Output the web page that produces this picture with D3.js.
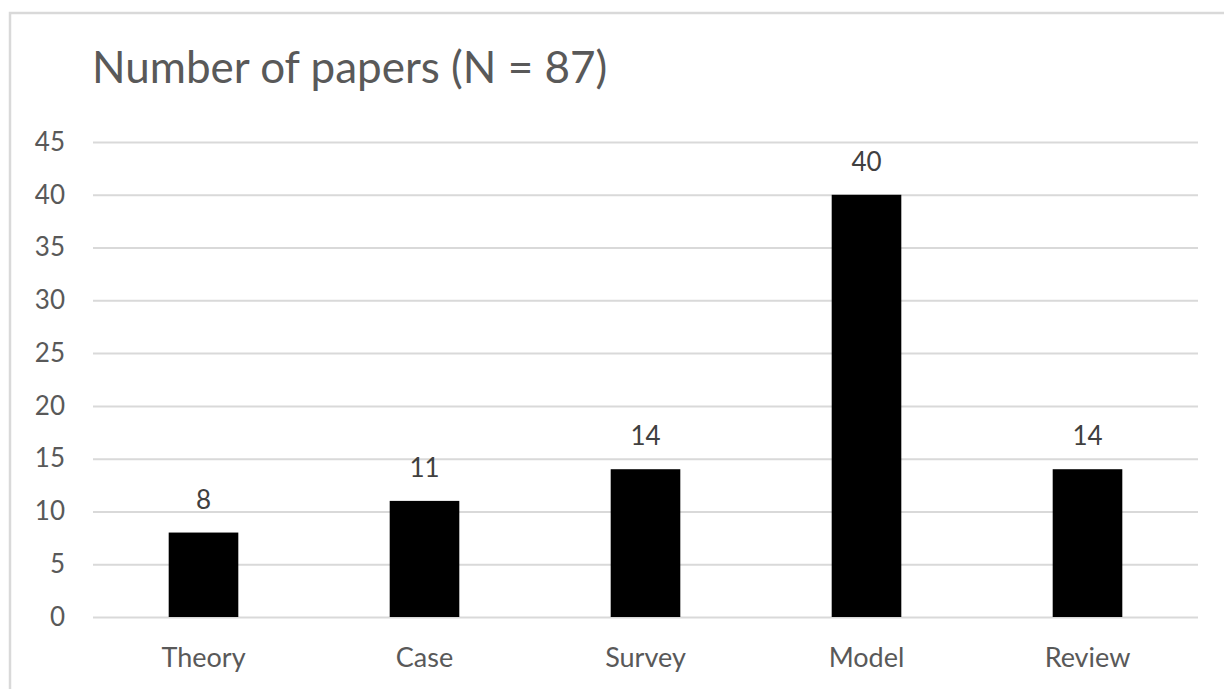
<!DOCTYPE html>
<html>
<head>
<meta charset="utf-8">
<script src="https://cdn.jsdelivr.net/npm/d3@7"></script>
<style>
  html, body { margin: 0; padding: 0; background: #ffffff; }
  svg { display: block; }
  text { font-family: Lato, "Open Sans", sans-serif; }
</style>
</head>
<body>
<svg id="chart" width="1224" height="689"></svg>
<script>
// Paper counts by research approach
const categories = ["Theory", "Case", "Survey", "Model", "Review"];
const paperCounts = [8, 11, 14, 40, 14];
const yTicks = [0, 5, 10, 15, 20, 25, 30, 35, 40, 45];
const chartTitle = "Number of papers (N = 87)";

const svg = d3.select("#chart");
const W = 1224, H = 689;
const plot = { left: 93, right: 1198, top: 142, bottom: 617 };

// Outer frame (only top and left edges fall inside the view)
svg.append("rect")
  .attr("x", 10).attr("y", 13)
  .attr("width", W + 20).attr("height", H + 20)
  .attr("fill", "#ffffff")
  .attr("stroke", "#d9d9d9")
  .attr("stroke-width", 2.5);

const x = d3.scaleBand()
  .domain(categories)
  .range([plot.left, plot.right])
  .paddingInner(0.685)
  .paddingOuter(0.3425);

const y = d3.scaleLinear()
  .domain([0, 45])
  .range([plot.bottom, plot.top]);

// Horizontal gridlines
const yAxis = d3.axisLeft(y)
  .tickValues(yTicks)
  .tickSize(-(plot.right - plot.left))
  .tickPadding(28);

const gy = svg.append("g")
  .attr("transform", `translate(${plot.left},0)`)
  .call(yAxis);
gy.select(".domain").remove();
gy.selectAll(".tick line")
  .attr("stroke", "#d9d9d9")
  .attr("stroke-width", 2);
gy.selectAll(".tick text")
  .attr("fill", "#595959")
  .attr("font-size", 26);

// Bars
svg.append("g")
  .selectAll("rect")
  .data(categories)
  .join("rect")
  .attr("x", d => x(d))
  .attr("width", x.bandwidth())
  .attr("y", (d, i) => y(paperCounts[i]))
  .attr("height", (d, i) => y(0) - y(paperCounts[i]))
  .attr("fill", "#000000");

// Value labels above each bar
svg.append("g")
  .selectAll("text")
  .data(categories)
  .join("text")
  .attr("x", d => x(d) + x.bandwidth() / 2)
  .attr("y", (d, i) => y(paperCounts[i]) - 24)
  .attr("text-anchor", "middle")
  .attr("fill", "#404040")
  .attr("font-size", 26)
  .text((d, i) => paperCounts[i]);

// Category axis labels
const xAxis = d3.axisBottom(x).tickSize(0).tickPadding(31);
const gx = svg.append("g")
  .attr("transform", `translate(0,${plot.bottom})`)
  .call(xAxis);
gx.select(".domain").remove();
gx.selectAll(".tick text")
  .attr("fill", "#595959")
  .attr("font-size", 27);

// Title
svg.append("text")
  .attr("x", 92)
  .attr("y", 83)
  .attr("fill", "#595959")
  .attr("font-size", 44)
  .text(chartTitle);
</script>
</body>
</html>
